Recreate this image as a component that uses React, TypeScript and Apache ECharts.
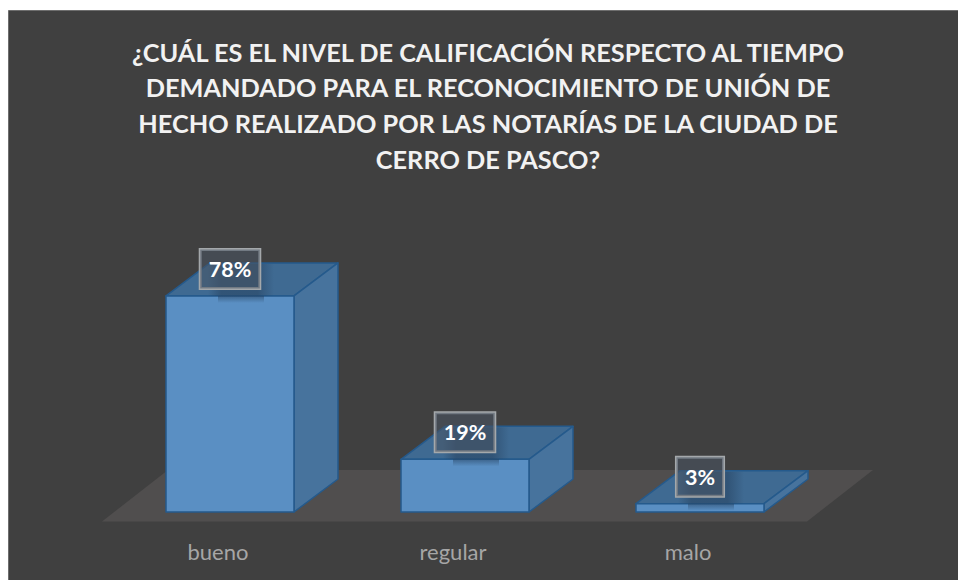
import React, { useEffect, useRef } from "react";
import * as echarts from "echarts";

const categories = ["bueno", "regular", "malo"];
const values = [78, 19, 3];
const titleLines = [
  "¿CUÁL ES EL NIVEL DE CALIFICACIÓN RESPECTO AL TIEMPO",
  "DEMANDADO PARA EL RECONOCIMIENTO DE UNIÓN DE",
  "HECHO REALIZADO POR LAS NOTARÍAS DE LA CIUDAD DE",
  "CERRO DE PASCO?",
];

const FONT = "Lato, Carlito, 'Open Sans', sans-serif";
const DX = 44;
const DY = -33;
const HALF = 64;
const SHIFT = 12;

function renderBar(params: any, api: any) {
  const idx = api.value(0);
  const val = api.value(1);
  const base = api.coord([idx, 0]);
  const top = api.coord([idx, val]);
  const cx = base[0] + SHIFT;
  const l = cx - HALF;
  const r = cx + HALF;
  const b = base[1];
  const t = top[1];
  const stroke = "#255a8c";
  const poly = (pts: number[][], fill: string) => ({
    type: "polygon",
    shape: { points: pts },
    style: { fill, stroke, lineWidth: 1.5, lineJoin: "round" },
  });
  const ghost = (pts: number[][]) => ({
    type: "polyline",
    shape: { points: pts },
    style: { fill: "none", stroke: "rgba(74,130,186,0.9)", lineWidth: 1 },
  });
  const dark = "rgba(38,66,96,0.55)";
  const clear = "rgba(38,66,96,0)";
  const shadowLeft = cx - 22;
  const shadowWidth = 66;
  const shadowTop = t + DY + 1;
  return {
    type: "group",
    children: [
      ghost([[l, b], [l + DX, b + DY], [l + DX, t + DY]]),
      ghost([[l + DX, b + DY], [r + DX, b + DY]]),
      poly([[l, t], [r, t], [r + DX, t + DY], [l + DX, t + DY]], "#3f6a92"),
      poly([[r, b], [r + DX, b + DY], [r + DX, t + DY], [r, t]], "#47739d"),
      poly([[l, b], [r, b], [r, t], [l, t]], "#5a8fc3"),
      {
        type: "rect",
        silent: true,
        shape: { x: shadowLeft, y: shadowTop, width: shadowWidth, height: t - shadowTop },
        style: {
          fill: {
            type: "linear", x: 0, y: 0, x2: 1, y2: 0,
            colorStops: [
              { offset: 0, color: clear },
              { offset: 0.2, color: dark },
              { offset: 0.75, color: dark },
              { offset: 1, color: clear },
            ],
          },
        },
      },
      {
        type: "rect",
        silent: true,
        shape: { x: shadowLeft + 10, y: t, width: shadowWidth - 20, height: 7 },
        style: {
          fill: {
            type: "linear", x: 0, y: 0, x2: 0, y2: 1,
            colorStops: [
              { offset: 0, color: dark },
              { offset: 1, color: clear },
            ],
          },
        },
      },
      {
        type: "text",
        style: {
          x: cx,
          y: t - 27,
          text: `${val}%`,
          align: "center",
          verticalAlign: "middle",
          fill: "#ffffff",
          font: `bold 21.5px ${FONT}`,
          backgroundColor: "rgba(72,84,98,0.55)",
          borderColor: "#a4a8ab",
          borderWidth: 1.5,
          padding: [9, 8.5, 8, 8.5],
        },
      },
    ],
  };
}

export default function App() {
  const ref = useRef<HTMLDivElement>(null);
  useEffect(() => {
    const chart = echarts.init(ref.current!, undefined, { renderer: "svg" });
    chart.setOption({
      animation: false,
      backgroundColor: "#ffffff",
      graphic: [
        {
          type: "rect",
          z: 0,
          shape: { x: 8.5, y: 10.5, width: 960, height: 580 },
          style: { fill: "#404040", stroke: "#6e6e6e", lineWidth: 1 },
        },
        {
          type: "polygon",
          z: 1,
          shape: { points: [[102, 521.5], [807, 521.5], [873, 470], [168, 470]] },
          style: { fill: "#504e4e" },
        },
      ],
      title: {
        text: titleLines.join("\n"),
        left: 483,
        top: 29,
        textAlign: "center",
        textStyle: { color: "#f2f2f2", fontFamily: FONT, fontWeight: "bold", fontSize: 25.3, lineHeight: 35.6 },
      },
      grid: { left: 100.5, width: 705, top: 235, bottom: 68 },
      xAxis: {
        type: "category",
        data: categories,
        axisLine: { show: false },
        axisTick: { show: false },
        axisLabel: { color: "#a6a6a6", fontFamily: FONT, fontSize: 22, margin: 28 },
      },
      yAxis: { type: "value", min: 0, max: 100, show: false },
      series: [
        {
          type: "custom",
          z: 3,
          clip: false,
          renderItem: renderBar,
          encode: { x: 0, y: 1 },
          data: values.map((v, i) => [i, v]),
        },
      ],
    });
    return () => chart.dispose();
  }, []);
  return <div ref={ref} style={{ position: "fixed", left: 0, top: 0, width: 958, height: 580 }} />;
}
